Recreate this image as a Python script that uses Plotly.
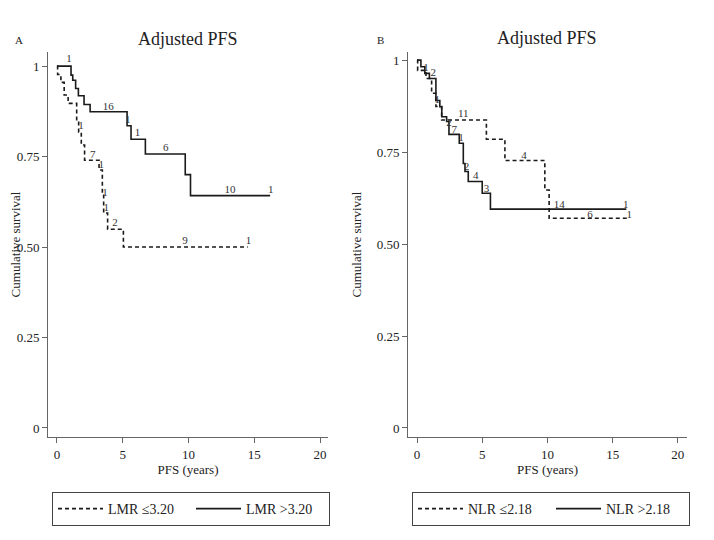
import plotly.graph_objects as go

# Panel A: LMR groups (time in years, cumulative survival)
lmr_low_t = [0, 0.05, 0.3, 0.55, 0.85, 1.5, 1.65, 1.85, 2.1, 3.2, 3.45, 3.55, 3.85, 5.05, 14.5]
lmr_low_s = [1.0, 0.977, 0.955, 0.92, 0.897, 0.85, 0.818, 0.782, 0.74, 0.713, 0.65, 0.594, 0.549, 0.5, 0.5]
lmr_high_t = [0, 1.07, 1.2, 1.42, 1.63, 2.06, 2.52, 5.33, 5.63, 6.72, 9.75, 10.15, 16.2]
lmr_high_s = [1.0, 0.975, 0.961, 0.938, 0.918, 0.894, 0.874, 0.835, 0.798, 0.757, 0.70, 0.642, 0.642]

# Panel B: NLR groups
nlr_low_t = [0, 0.05, 0.69, 1.12, 1.45, 1.89, 5.32, 6.74, 9.8, 10.13, 16.3]
nlr_low_s = [1.0, 0.972, 0.95, 0.91, 0.874, 0.837, 0.785, 0.727, 0.647, 0.57, 0.57]
nlr_high_t = [0, 0.3, 0.6, 0.95, 1.45, 1.75, 1.9, 2.27, 2.45, 3.24, 3.55, 3.68, 3.93, 5.0, 5.63, 16.05]
nlr_high_s = [1.0, 0.982, 0.964, 0.95, 0.89, 0.873, 0.846, 0.833, 0.798, 0.774, 0.719, 0.697, 0.67, 0.638, 0.595, 0.595]

# numbers printed along the curves
lab_a_x = [0.92, 3.9, 5.38, 6.13, 8.27, 13.16, 16.25, 1.83, 2.72, 3.36, 3.66, 3.74, 4.41, 9.73, 14.55]
lab_a_y = [1.02, 0.886, 0.851, 0.814, 0.773, 0.656, 0.656, 0.833, 0.754, 0.725, 0.65, 0.608, 0.565, 0.515, 0.515]
lab_a_txt = ["1", "16", "1", "1", "6", "10", "1", "1", "7", "1", "1", "1", "2", "9", "1"]

lab_b_x = [0.69, 1.25, 1.55, 2.45, 2.86, 3.55, 3.37, 3.8, 4.5, 5.33, 8.2, 10.9, 16.0, 13.26, 16.27]
lab_b_y = [0.977, 0.964, 0.89, 0.828, 0.81, 0.853, 0.787, 0.71, 0.683, 0.65, 0.738, 0.606, 0.606, 0.579, 0.579]
lab_b_txt = ["1", "2", "1", "2", "7", "11", "1", "2", "4", "3", "4", "14", "1", "6", "1"]

x_ticks = [0, 5, 10, 15, 20]
y_ticks = [0, 0.25, 0.5, 0.75, 1]
y_ticktext = ["0", "0.25", "0.50", "0.75", "1"]

# the page puts the plot 8px in from the top-left corner
OFF = 8
W, H = 714 - OFF, 540 - OFF
def px(x):
    return (x - OFF) / W
def py(y):
    return 1 - (y - OFF) / H

serif = "Liberation Serif, Times New Roman, serif"
ink = "#1a1a1a"

fig = go.Figure()

def add_curve(t, s, name, dash, xa, ya, leg):
    fig.add_trace(go.Scatter(x=t, y=s, mode="lines", name=name,
                             line=dict(shape="hv", color=ink, width=1.6, dash=dash),
                             xaxis=xa, yaxis=ya, legend=leg, hoverinfo="skip"))

def add_labels(xs, ys, txt, xa, ya):
    fig.add_trace(go.Scatter(x=xs, y=ys, mode="text", text=txt,
                             textfont=dict(family=serif, size=11, color="#333"),
                             xaxis=xa, yaxis=ya, showlegend=False, hoverinfo="skip"))

add_curve(lmr_low_t, lmr_low_s, "LMR ≤3.20", "4px,3px", "x", "y", "legend")
add_curve(lmr_high_t, lmr_high_s, "LMR >3.20", "solid", "x", "y", "legend")
add_labels(lab_a_x, lab_a_y, lab_a_txt, "x", "y")

add_curve(nlr_low_t, nlr_low_s, "NLR ≤2.18", "4px,3px", "x2", "y2", "legend2")
add_curve(nlr_high_t, nlr_high_s, "NLR >2.18", "solid", "x2", "y2", "legend2")
add_labels(lab_b_x, lab_b_y, lab_b_txt, "x2", "y2")

axis_style = dict(showline=True, linecolor="#666", linewidth=1, ticks="outside", ticklen=5,
                  tickcolor="#666", showgrid=False, zeroline=False, automargin=False,
                  tickfont=dict(family=serif, size=13, color="#222"))

ydom = [py(437), py(52)]
legend_style = dict(y=py(492), xanchor="left", yanchor="top", orientation="h",
                    bordercolor="#444", borderwidth=1, entrywidth=78, itemwidth=45,
                    font=dict(family=serif, size=14, color="#222"))

fig.update_layout(
    width=W, height=H,
    margin=dict(l=0, r=0, t=0, b=0),
    paper_bgcolor="white", plot_bgcolor="white",
    font=dict(family=serif, color="#222"),
    xaxis=dict(domain=[px(48), px(328)], range=[-0.68, 20.6], tickvals=x_ticks,
               title=dict(text="PFS (years)", font=dict(size=13), standoff=2), **axis_style),
    yaxis=dict(domain=ydom, range=[-0.025, 1.039], tickvals=y_ticks, ticktext=y_ticktext,
               title=dict(text="Cumulative survival", font=dict(size=13), standoff=12), **axis_style),
    xaxis2=dict(domain=[px(408), px(687)], range=[-0.69, 20.7], tickvals=x_ticks, anchor="y2",
                title=dict(text="PFS (years)", font=dict(size=13), standoff=2), **axis_style),
    yaxis2=dict(domain=ydom, range=[-0.0245, 1.022], tickvals=y_ticks, ticktext=y_ticktext,
                anchor="x2", title=dict(text="Cumulative survival", font=dict(size=13), standoff=12),
                **axis_style),
    legend=dict(x=px(52), **legend_style),
    legend2=dict(x=px(412), **legend_style),
    annotations=[
        dict(text="Adjusted PFS", x=px(188), y=py(39), xref="paper", yref="paper",
             xanchor="center", yanchor="middle", showarrow=False, font=dict(size=18, color="#222")),
        dict(text="Adjusted PFS", x=px(547), y=py(38), xref="paper", yref="paper",
             xanchor="center", yanchor="middle", showarrow=False, font=dict(size=18, color="#222")),
        dict(text="A", x=px(19), y=py(40), xref="paper", yref="paper",
             xanchor="center", yanchor="middle", showarrow=False, font=dict(size=11, color="#222")),
        dict(text="B", x=px(380), y=py(40), xref="paper", yref="paper",
             xanchor="center", yanchor="middle", showarrow=False, font=dict(size=11, color="#222")),
    ],
)

fig.write_html("out.html")
